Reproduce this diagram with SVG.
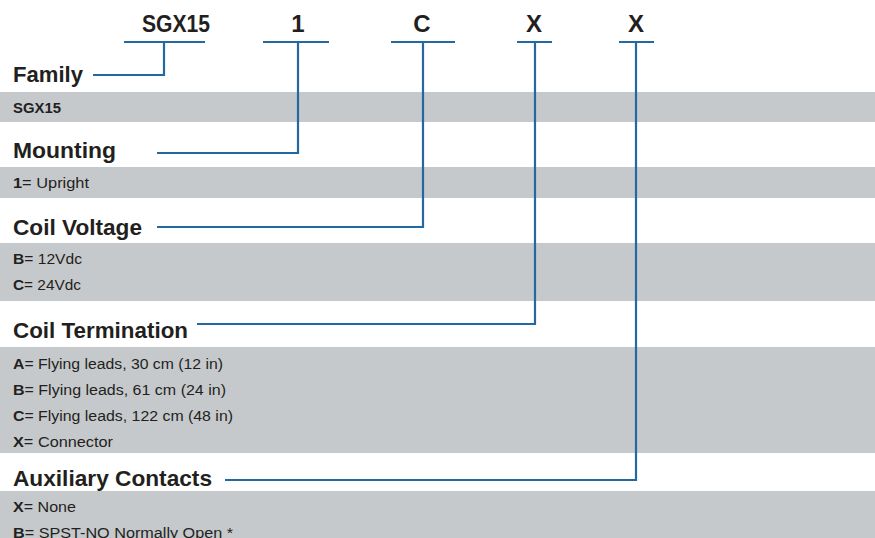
<svg xmlns="http://www.w3.org/2000/svg" width="875" height="538" viewBox="0 0 875 538">
<style>
.band{fill:#c6c9cc}
.code{font-family:"Liberation Sans",Arial,sans-serif;font-weight:bold;font-size:24px;fill:#231f20;text-anchor:middle}
.head{font-family:"Liberation Sans",Arial,sans-serif;font-weight:bold;font-size:22px;fill:#231f20}
.item{font-family:"Liberation Sans",Arial,sans-serif;font-size:15.5px;fill:#231f20}
.item tspan.k{font-weight:bold}
.conn{fill:none;stroke:#2468a2;stroke-width:2.2}
</style>
<rect width="875" height="538" fill="#ffffff"/>
<g id="bands">
<rect class="band" x="0" y="92" width="875" height="30"/>
<rect class="band" x="0" y="167" width="875" height="31"/>
<rect class="band" x="0" y="243" width="875" height="58"/>
<rect class="band" x="0" y="347" width="875" height="106"/>
<rect class="band" x="0" y="491" width="875" height="47"/>
</g>
<g id="codes">
<text class="code" x="176" y="32" textLength="68" lengthAdjust="spacingAndGlyphs">SGX15</text>
<text class="code" x="298" y="32">1</text>
<text class="code" x="422" y="32">C</text>
<text class="code" x="534" y="32">X</text>
<text class="code" x="636" y="32">X</text>
</g>
<g id="family">
<text class="head" x="13" y="82" textLength="70" lengthAdjust="spacingAndGlyphs">Family</text>
<text class="item" x="13" y="113" textLength="48" lengthAdjust="spacingAndGlyphs"><tspan class="k">SGX15</tspan></text>
</g>
<g id="mounting">
<text class="head" x="13" y="158" textLength="103" lengthAdjust="spacingAndGlyphs">Mounting</text>
<text class="item" x="13" y="188" textLength="76" lengthAdjust="spacingAndGlyphs"><tspan class="k">1</tspan>= Upright</text>
</g>
<g id="coil-voltage">
<text class="head" x="13" y="235" textLength="129" lengthAdjust="spacingAndGlyphs">Coil Voltage</text>
<text class="item" x="13" y="264" textLength="69" lengthAdjust="spacingAndGlyphs"><tspan class="k">B</tspan>= 12Vdc</text>
<text class="item" x="13" y="290" textLength="68" lengthAdjust="spacingAndGlyphs"><tspan class="k">C</tspan>= 24Vdc</text>
</g>
<g id="coil-termination">
<text class="head" x="13" y="338" textLength="175" lengthAdjust="spacingAndGlyphs">Coil Termination</text>
<text class="item" x="13" y="369" textLength="210" lengthAdjust="spacingAndGlyphs"><tspan class="k">A</tspan>= Flying leads, 30 cm (12 in)</text>
<text class="item" x="13" y="395" textLength="213" lengthAdjust="spacingAndGlyphs"><tspan class="k">B</tspan>= Flying leads, 61 cm (24 in)</text>
<text class="item" x="13" y="421" textLength="220" lengthAdjust="spacingAndGlyphs"><tspan class="k">C</tspan>= Flying leads, 122 cm (48 in)</text>
<text class="item" x="13" y="447" textLength="100" lengthAdjust="spacingAndGlyphs"><tspan class="k">X</tspan>= Connector</text>
</g>
<g id="auxiliary-contacts">
<text class="head" x="13" y="486" textLength="199" lengthAdjust="spacingAndGlyphs">Auxiliary Contacts</text>
<text class="item" x="13" y="512" textLength="63" lengthAdjust="spacingAndGlyphs"><tspan class="k">X</tspan>= None</text>
<text class="item" x="13" y="538" textLength="220" lengthAdjust="spacingAndGlyphs"><tspan class="k">B</tspan>= SPST-NO Normally Open *</text>
</g>
<g id="connectors">
<path class="conn" d="M124 42H205M164 42V75H93"/>
<path class="conn" d="M263 42H329M298 42V153H157"/>
<path class="conn" d="M391 42H455M423 42V227H157"/>
<path class="conn" d="M517 42H552M535 42V324H197"/>
<path class="conn" d="M619 42H654M636 42V480H225"/>
</g>
</svg>
